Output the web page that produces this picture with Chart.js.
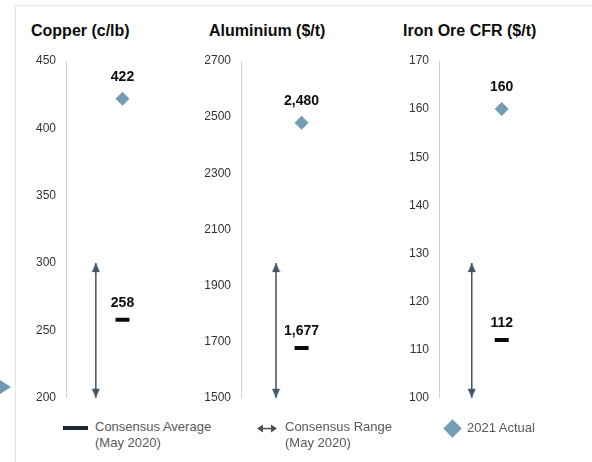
<!DOCTYPE html>
<html><head><meta charset="utf-8">
<script src="https://cdn.jsdelivr.net/npm/chart.js@4/dist/chart.umd.min.js"></script>
<style>
body{margin:0;background:#fff;width:592px;height:462px;overflow:hidden;position:relative;font-family:"Liberation Sans",Arial,sans-serif;}
canvas{position:absolute;top:0;}
.title{position:absolute;top:22px;font-weight:bold;font-size:16px;line-height:18px;color:#0d0d0d;white-space:nowrap}
.leg{position:absolute;font-size:13px;line-height:16px;color:#595959;white-space:nowrap}
.frameTop{position:absolute;left:15px;top:5px;width:577px;height:1px;background:#e4e4e4}
.frameLeft{position:absolute;left:15px;top:5px;width:1px;height:457px;background:#e4e4e4}
.sideArrow{position:absolute;left:0;top:380px;width:0;height:0;border-left:11px solid #6f9bb2;border-top:7px solid transparent;border-bottom:7px solid transparent}
</style></head><body>
<div class="frameTop"></div><div class="frameLeft"></div><div class="sideArrow"></div>
<div id="root"></div>
<script>
// ---- data ----
const commodities = ['Copper (c/lb)', 'Aluminium ($/t)', 'Iron Ore CFR ($/t)'];
const tickMin = [200, 1500, 100];
const tickMax = [450, 2700, 170];
const tickStep = [50, 200, 10];
const consensusLow = [200, 1500, 100];
const consensusHigh = [300, 1980, 128];
const consensusAvg = [258, 1677, 112];
const actual2021 = [422, 2480, 160];
const legendLabels = [['Consensus Average', '(May 2020)'], ['Consensus Range', '(May 2020)'], ['2021 Actual']];

// ---- layout / style ----
const PANEL = [
  {left: 0, titleLeft: 31, rangeX: 0.264, markX: 0.5},
  {left: 175, titleLeft: 209, rangeX: 0.31, markX: 0.536},
  {left: 373, titleLeft: 403, rangeX: 0.29, markX: 0.555}
];
const CANVAS_W = 190, CANVAS_H = 415, AXIS_W = 66, PLOT_TOP = 61, PAD_BOTTOM = 9, PAD_RIGHT = 8;
const ARROW = '#3f5468', DIAMOND = '#729db3', DASH = '#0a0a0a';
const FONT = '"Liberation Sans", Arial, sans-serif';
Chart.defaults.font.family = FONT;

function arrowHead() {
  const c = document.createElement('canvas');
  c.width = 9; c.height = 20;
  const g = c.getContext('2d');
  g.fillStyle = ARROW;
  g.beginPath(); g.moveTo(4.5, 10); g.lineTo(8.5, 19); g.lineTo(0.5, 19); g.closePath(); g.fill();
  return c;
}
const HEAD = arrowHead();

const valueLabels = {
  id: 'valueLabels',
  afterDatasetsDraw(chart) {
    const ctx = chart.ctx;
    chart.data.datasets.forEach((ds, i) => {
      if (!ds.valueLabelGap) return;
      chart.getDatasetMeta(i).data.forEach((pt, j) => {
        ctx.save();
        ctx.font = 'bold 14px ' + FONT;
        ctx.fillStyle = '#0d0d0d';
        ctx.textAlign = 'center';
        ctx.textBaseline = 'middle';
        ctx.fillText(ds.data[j].y.toLocaleString('en-US'), pt.x, pt.y - ds.valueLabelGap);
        ctx.restore();
      });
    });
  }
};

const root = document.getElementById('root');
commodities.forEach((name, i) => {
  const p = PANEL[i];
  const t = document.createElement('div');
  t.className = 'title'; t.style.left = p.titleLeft + 'px'; t.textContent = name;
  root.appendChild(t);
  const cv = document.createElement('canvas');
  cv.width = CANVAS_W; cv.height = CANVAS_H; cv.style.left = p.left + 'px';
  root.appendChild(cv);
  new Chart(cv, {
    type: 'scatter',
    data: {
      datasets: [
        {
          type: 'line', label: 'Consensus Range (May 2020)',
          data: [{x: p.rangeX, y: consensusLow[i]}, {x: p.rangeX, y: consensusHigh[i]}],
          borderColor: ARROW, borderWidth: 1.5, pointStyle: HEAD, pointRadius: 4,
          pointRotation: [180, 0], clip: false, order: 2
        },
        {
          label: 'Consensus Average (May 2020)',
          data: [{x: p.markX, y: consensusAvg[i]}],
          pointStyle: 'line', pointRadius: 7, pointBorderWidth: 4,
          pointBorderColor: DASH, borderColor: DASH, valueLabelGap: 17, order: 1
        },
        {
          label: '2021 Actual',
          data: [{x: p.markX, y: actual2021[i]}],
          pointStyle: 'rectRot', pointRadius: 7, pointBorderWidth: 0,
          pointBackgroundColor: DIAMOND, backgroundColor: DIAMOND, valueLabelGap: 22, order: 0
        }
      ]
    },
    options: {
      responsive: false, animation: false,
      layout: {padding: {top: PLOT_TOP, bottom: PAD_BOTTOM, left: 0, right: PAD_RIGHT}},
      plugins: {legend: {display: false}, tooltip: {enabled: false}, title: {display: false}},
      scales: {
        x: {type: 'linear', min: 0, max: 1, display: false},
        y: {
          min: tickMin[i], max: tickMax[i],
          border: {display: true, color: '#d0d0d0', width: 1},
          grid: {display: false, drawTicks: false},
          ticks: {stepSize: tickStep[i], padding: 10, color: '#333', font: {size: 12}, callback: v => String(v)},
          afterFit(s) { s.width = AXIS_W; }
        }
      }
    },
    plugins: [valueLabels]
  });
});

// ---- legend ----
const LEG = [
  {iconHTML: '<div style="position:absolute;left:63px;top:426px;width:25px;height:4px;background:#1f2730"></div>', textLeft: 95, top: 419},
  {iconHTML: '<svg style="position:absolute;left:257px;top:424px" width="20" height="9"><path d="M0 4.5 L6 0.5 L6 8.5 Z M20 4.5 L14 0.5 L14 8.5 Z" fill="#505050"/><rect x="5" y="3.8" width="10" height="1.5" fill="#505050"/></svg>', textLeft: 285, top: 419},
  {iconHTML: '<div style="position:absolute;left:445.5px;top:421.5px;width:13px;height:13px;background:' + DIAMOND + ';transform:rotate(45deg)"></div>', textLeft: 467, top: 420}
];
legendLabels.forEach((lines, k) => {
  root.insertAdjacentHTML('beforeend', LEG[k].iconHTML);
  const d = document.createElement('div');
  d.className = 'leg'; d.style.left = LEG[k].textLeft + 'px'; d.style.top = LEG[k].top + 'px';
  d.innerHTML = lines.join('<br>');
  root.appendChild(d);
});
</script>
</body></html>
